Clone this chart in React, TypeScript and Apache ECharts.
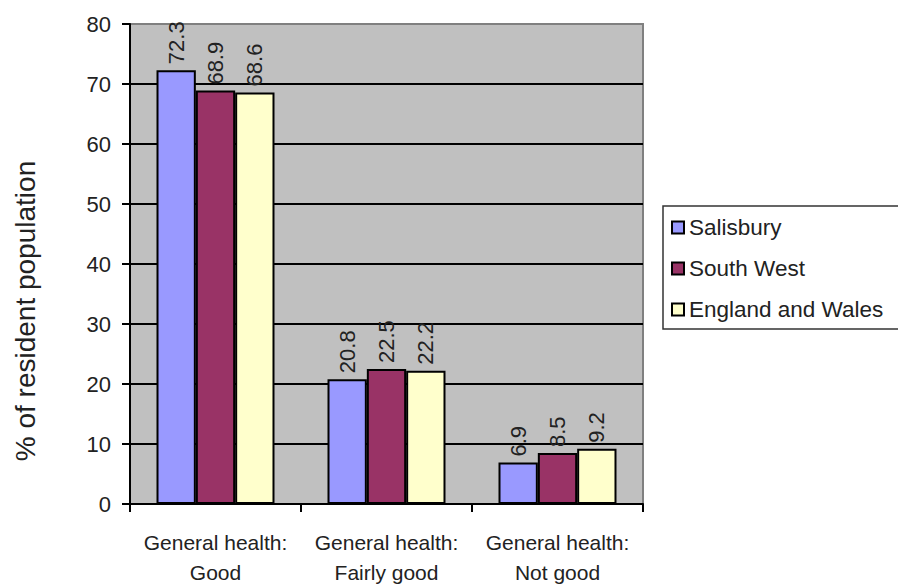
import React, { useEffect, useRef } from "react";
import * as echarts from "echarts";

const categories = [
  "General health:\nGood",
  "General health:\nFairly good",
  "General health:\nNot good",
];
const seriesNames = ["Salisbury", "South West", "England and Wales"];
const salisbury = [72.3, 20.8, 6.9];
const southWest = [68.9, 22.5, 8.5];
const englandWales = [68.6, 22.2, 9.2];
const seriesColors = ["#9999ff", "#993366", "#ffffcc"];
const yTicks = { min: 0, max: 80, interval: 10 };

const FONT = "Liberation Sans, Arial, sans-serif";

export default function App() {
  const ref = useRef<HTMLDivElement>(null);

  useEffect(() => {
    if (!ref.current) return;
    const chart = echarts.init(ref.current, null, { renderer: "svg" });
    const values = [salisbury, southWest, englandWales];
    chart.setOption({
      animation: false,
      backgroundColor: "#ffffff",
      textStyle: { fontFamily: FONT },
      grid: {
        left: 130,
        top: 24,
        right: 255,
        bottom: 78,
        show: true,
        backgroundColor: "#c0c0c0",
        borderColor: "#808080",
        borderWidth: 2,
      },
      legend: {
        orient: "vertical",
        left: 663,
        top: 206,
        width: 260,
        padding: [10, 20, 8, 8],
        borderColor: "#333",
        borderWidth: 1.5,
        backgroundColor: "#fff",
        itemWidth: 12,
        itemHeight: 12,
        itemGap: 18,
        icon: "rect",
        textStyle: { fontSize: 22.5, color: "#222", fontFamily: FONT, padding: [0, 0, 0, 0] },
        data: seriesNames,
      },
      xAxis: {
        type: "category",
        data: categories,
        axisLine: { lineStyle: { color: "#000", width: 2 } },
        axisTick: { show: true, length: 8, lineStyle: { color: "#000", width: 2 } },
        axisLabel: {
          interval: 0,
          fontSize: 21,
          lineHeight: 30,
          color: "#222",
          margin: 23,
          fontFamily: FONT,
        },
      },
      yAxis: {
        type: "value",
        min: yTicks.min,
        max: yTicks.max,
        interval: yTicks.interval,
        axisLine: { show: true, lineStyle: { color: "#000", width: 2 } },
        axisTick: { show: true, length: 8, lineStyle: { color: "#000", width: 2 } },
        axisLabel: { fontSize: 22, color: "#222", margin: 19, fontFamily: FONT },
        splitLine: {
          show: true,
          lineStyle: {
            color: ["#000", "#000", "#000", "#000", "#000", "#000", "#000", "#000", "#808080"],
            width: 2,
          },
        },
      },
      graphic: [
        {
          type: "text",
          x: 25,
          y: 311,
          rotation: Math.PI / 2,
          style: {
            text: "% of resident population",
            fontSize: 28,
            fill: "#222",
            fontFamily: FONT,
            align: "center",
            verticalAlign: "middle",
          },
        },
      ],
      series: seriesNames.map((name, i) => ({
        name,
        type: "bar",
        data: values[i],
        barGap: "0%",
        barCategoryGap: "31%",
        itemStyle: {
          color: seriesColors[i],
          borderColor: "#000",
          borderWidth: 2,
        },
        label: {
          show: true,
          position: "top",
          rotate: 90,
          align: "left",
          verticalAlign: "middle",
          distance: 6,
          fontSize: 22,
          color: "#222",
          fontFamily: FONT,
        },
      })),
    });
    return () => chart.dispose();
  }, []);

  return (
    <div
      ref={ref}
      style={{ position: "fixed", left: 0, top: 0, width: 898, height: 587 }}
    />
  );
}
